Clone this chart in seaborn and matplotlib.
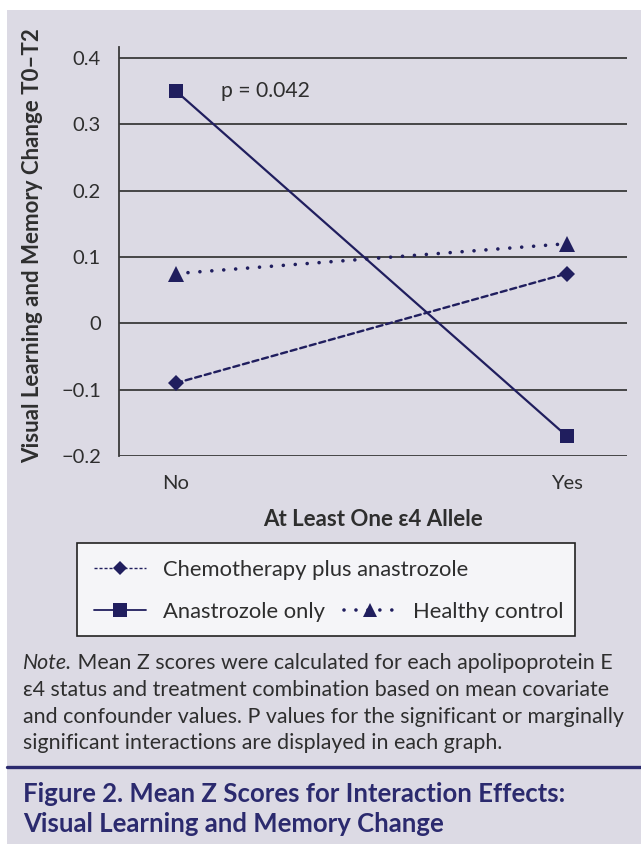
import matplotlib
matplotlib.use("Agg")
import matplotlib.pyplot as plt
import seaborn as sns
import pandas as pd
from matplotlib.lines import Line2D
from matplotlib.patches import Rectangle

# ---------------- data ----------------
categories = ["No", "Yes"]
chemo_vals = [-0.09, 0.075]
anastrozole_vals = [0.35, -0.17]
healthy_vals = [0.075, 0.12]
series_names = ["Chemotherapy plus anastrozole", "Anastrozole only", "Healthy control"]
y_ticks = [-0.2, -0.1, 0, 0.1, 0.2, 0.3, 0.4]
y_tick_labels = ["\u22120.2", "\u22120.1", "0", "0.1", "0.2", "0.3", "0.4"]
p_label = "p = 0.042"
x_label = "At Least One \u03b54 Allele"
y_label = "Visual Learning and Memory Change T0\u2013T2"
note_lines = [
    "Mean Z scores were calculated for each apolipoprotein E",
    "\u03b54 status and treatment combination based on mean covariate",
    "and confounder values. P values for the significant or marginally",
    "significant interactions are displayed in each graph.",
]
title_lines = ["Figure 2. Mean Z Scores for Interaction Effects:",
               "Visual Learning and Memory Change"]

# ---------------- style ----------------
sns.set_theme(style="white")
plt.rcParams["font.family"] = ["Lato", "DejaVu Sans"]
W, H = 641, 844
BG = "#dcdae4"
NAVY = "#201e5e"
TXT = "#2e2e2e"

fig = plt.figure(figsize=(W / 100, H / 100), dpi=100, facecolor="white")
fig.patches.append(Rectangle((7 / W, 0), 1 - 7 / W, 1 - 10 / H, transform=fig.transFigure,
                             facecolor=BG, edgecolor="none", zorder=-10))

def fx(x):
    return x / W

def fy(y):
    return 1 - y / H

ax_left, ax_right, ax_top, ax_bot = 119, 627, 47, 456
ax = fig.add_axes([fx(ax_left), fy(ax_bot), (ax_right - ax_left) / W, (ax_bot - ax_top) / H])
ax.set_facecolor("none")

df = pd.DataFrame({
    "allele": categories * 3,
    "z": chemo_vals + anastrozole_vals + healthy_vals,
    "group": [series_names[0]] * 2 + [series_names[1]] * 2 + [series_names[2]] * 2,
})

styles = {
    series_names[0]: dict(ls=(0, (2.6, 1.6)), lw=1.7, marker="D", ms=8),
    series_names[1]: dict(ls="-", lw=1.6, marker="s", ms=9.8),
    series_names[2]: dict(ls=(0, (0.01, 3.3)), lw=2.6, marker="^", ms=11),
}
for name in series_names:
    st = styles[name]
    sub = df[df["group"] == name]
    sns.lineplot(data=sub, x="allele", y="z", ax=ax, color=NAVY, linestyle=st["ls"],
                 linewidth=st["lw"], marker=st["marker"], markersize=st["ms"],
                 markeredgewidth=0, markerfacecolor=NAVY, dash_capstyle="round",
                 solid_capstyle="butt", legend=False, zorder=3)

ax.set_xlim(-0.146, 1.154)
ax.set_ylim(-0.2, 0.4165)
ax.set_yticks(y_ticks)
ax.set_yticklabels(y_tick_labels)
for t in y_ticks:
    ax.axhline(t, color="#3a3a3a", lw=1.3, zorder=1)
for s in ["top", "right", "bottom"]:
    ax.spines[s].set_visible(False)
ax.spines["left"].set_color("#3a3a3a")
ax.spines["left"].set_linewidth(1.3)
ax.tick_params(axis="both", length=0, labelsize=14.5, colors=TXT)
ax.tick_params(axis="y", pad=13)
ax.tick_params(axis="x", pad=14)
ax.set_xlabel("")
ax.set_ylabel("")

ax.text(0.115, 0.35, p_label, fontsize=15.2, color=TXT, va="center", ha="left")

fig.text(fx(33), fy(246), y_label, rotation=90, fontsize=16.0, fontweight="bold",
         color=TXT, ha="center", va="center")
fig.text(fx(373), fy(519), x_label, fontsize=16.0, fontweight="bold", color=TXT,
         ha="center", va="center")

# legend box
fig.patches.append(Rectangle((fx(77), fy(636)), (575 - 77) / W, (636 - 543) / H,
                             transform=fig.transFigure, facecolor="#f5f5f8",
                             edgecolor="#222222", lw=1.2, zorder=1))
h_chemo = Line2D([], [], color=NAVY, ls=(0, (2.2, 1.4)), lw=1.0, marker="D", ms=7, mew=0)
h_ana = Line2D([], [], color=NAVY, ls="-", lw=1.3, marker="s", ms=9.5, mew=0)
h_hc = Line2D([], [], color=NAVY, ls=(0, (0.01, 3.3)), lw=2.6, marker="^", ms=10, mew=0,
              dash_capstyle="round")
leg_kw = dict(frameon=False, fontsize=15.8, handlelength=2.35, handletextpad=0.8,
              labelcolor=TXT, borderpad=0, borderaxespad=0)
fig.legend([h_chemo], [series_names[0]], loc="center left",
           bbox_to_anchor=(fx(94), fy(570)), **leg_kw)
fig.legend([h_ana, h_hc], [series_names[1], series_names[2]], loc="center left", ncol=2,
           columnspacing=0.85, bbox_to_anchor=(fx(94), fy(612)), **leg_kw)

# note
note_fs = 15.4
fig.canvas.draw()
r = fig.canvas.get_renderer()
t_note = fig.text(fx(23), fy(663), "Note.", fontsize=note_fs, style="italic", color=TXT,
                  va="center", ha="left")
wpx = t_note.get_window_extent(r).width
fig.text(fx(23 + wpx) , fy(663), " " + note_lines[0], fontsize=note_fs, color=TXT,
         va="center", ha="left")
for i, line in enumerate(note_lines[1:]):
    fig.text(fx(23), fy(690 + 26.7 * i), line, fontsize=note_fs, color=TXT, va="center", ha="left")

fig.add_artist(Line2D([fx(7), 1], [fy(767), fy(767)], transform=fig.transFigure,
                      color="#2b2a6e", lw=2.4))
for i, line in enumerate(title_lines):
    fig.text(fx(23), fy(794 + 30 * i), line, fontsize=18.5, fontweight="bold", color="#2b2a6e",
             va="center", ha="left")

fig.savefig("out.png", dpi=100, facecolor="white")
